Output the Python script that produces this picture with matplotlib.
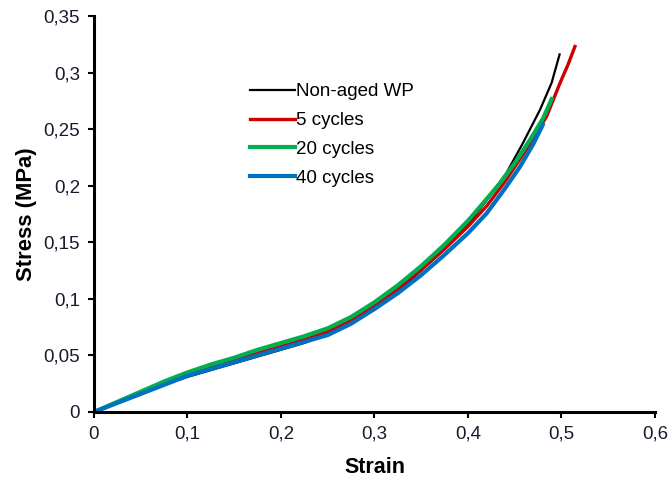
import matplotlib.pyplot as plt
from matplotlib.ticker import FuncFormatter, MultipleLocator

plt.rcParams['font.family'] = ['Liberation Sans', 'DejaVu Sans']

# Stress-strain data
strain_nonaged = [0, 0.025, 0.05, 0.075, 0.1, 0.125, 0.15, 0.175, 0.2, 0.225, 0.25, 0.275, 0.3, 0.325,
                  0.35, 0.375, 0.4, 0.42, 0.441, 0.459, 0.477, 0.4895, 0.498]
stress_nonaged = [0, 0.008, 0.016, 0.024, 0.031, 0.037, 0.043, 0.049, 0.055, 0.061, 0.069, 0.079, 0.092, 0.107,
                  0.125, 0.144, 0.166, 0.187, 0.211, 0.238, 0.267, 0.291, 0.316]

strain_5 = [0, 0.025, 0.05, 0.075, 0.1, 0.125, 0.15, 0.175, 0.2, 0.225, 0.25, 0.275, 0.3, 0.325,
            0.35, 0.375, 0.4, 0.42, 0.44, 0.46, 0.475, 0.484, 0.4984, 0.507, 0.5144]
stress_5 = [0, 0.0085, 0.017, 0.025, 0.033, 0.040, 0.046, 0.052, 0.058, 0.064, 0.071, 0.081, 0.094, 0.109,
            0.126, 0.144, 0.164, 0.182, 0.204, 0.229, 0.249, 0.261, 0.2906, 0.307, 0.323]

strain_20 = [0, 0.025, 0.05, 0.075, 0.1, 0.125, 0.15, 0.175, 0.2, 0.225, 0.25, 0.275, 0.3, 0.325,
             0.35, 0.375, 0.4, 0.413, 0.434, 0.45, 0.4663, 0.48, 0.4895]
stress_20 = [0, 0.009, 0.018, 0.027, 0.035, 0.042, 0.048, 0.055, 0.061, 0.067, 0.074, 0.084, 0.097, 0.112,
             0.129, 0.148, 0.169, 0.1815, 0.202, 0.220, 0.2405, 0.259, 0.2765]

strain_40 = [0, 0.025, 0.05, 0.075, 0.1, 0.125, 0.15, 0.175, 0.2, 0.225, 0.25, 0.275, 0.3, 0.325,
             0.35, 0.375, 0.4, 0.42, 0.44, 0.4556, 0.47, 0.48]
stress_40 = [0, 0.008, 0.016, 0.024, 0.032, 0.038, 0.044, 0.050, 0.056, 0.062, 0.068, 0.078, 0.091, 0.105,
             0.121, 0.139, 0.158, 0.1756, 0.198, 0.2167, 0.237, 0.2538]

fig = plt.figure(figsize=(6.68, 4.83), dpi=100)
ax = fig.add_axes([0.1407, 0.147, 0.8398, 0.820])

ax.plot(strain_nonaged, stress_nonaged, color='black', lw=1.6, label='Non-aged WP')
ax.plot(strain_5, stress_5, color='#CC0000', lw=2.4, label='5 cycles')
ax.plot(strain_20, stress_20, color='#00B050', lw=3, label='20 cycles')
ax.plot(strain_40, stress_40, color='#0070C0', lw=3, label='40 cycles')

ax.set_xlim(0, 0.6)
ax.set_ylim(0, 0.35)
ax.xaxis.set_major_locator(MultipleLocator(0.1))
ax.yaxis.set_major_locator(MultipleLocator(0.05))

comma = FuncFormatter(lambda v, pos: ('%g' % round(v, 3)).replace('.', ','))
ax.xaxis.set_major_formatter(comma)
ax.yaxis.set_major_formatter(comma)

for side in ['top', 'right']:
    ax.spines[side].set_visible(False)
for side in ['left', 'bottom']:
    ax.spines[side].set_linewidth(2.2)
ax.tick_params(direction='out', length=4, width=1.5, labelsize=13.5, colors='black',
               labelcolor='#1a1a2e', pad=6)

ax.set_xlabel('Strain', fontsize=15.5, fontweight='bold', labelpad=10)
ax.set_ylabel('Stress (MPa)', fontsize=15.8, fontweight='bold', labelpad=5)

ax.legend(loc='upper left', bbox_to_anchor=(0.278, 0.83), frameon=False,
          fontsize=13.5, handlelength=2.4, handletextpad=0.05,
          labelspacing=0.62, borderaxespad=0, borderpad=0)

plt.savefig('out.png', dpi=100)
